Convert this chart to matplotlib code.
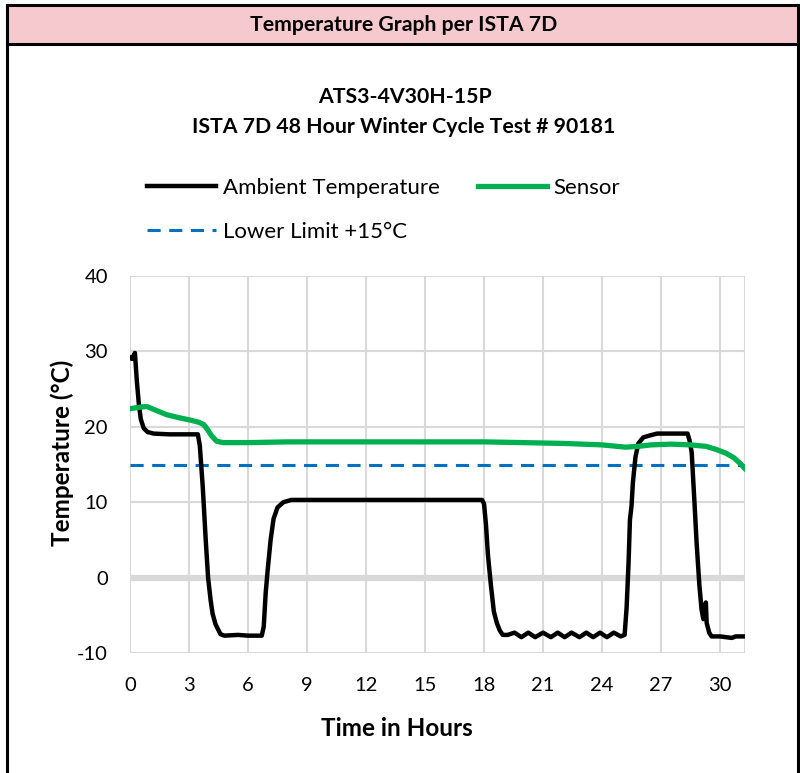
import matplotlib.pyplot as plt
from matplotlib.patches import Rectangle
from matplotlib.lines import Line2D

plt.rcParams['font.family'] = ['Lato', 'DejaVu Sans']
plt.rcParams['axes.unicode_minus'] = False

# time in hours / temperature in degC
ambient_t = [0.0, 0.1, 0.25, 0.35, 0.45, 0.55, 0.7, 0.9, 1.2, 2.0, 3.0, 3.45,
             3.55, 3.7, 3.85, 3.97, 4.1, 4.2, 4.35, 4.6, 4.8, 5.5, 6.0, 6.7,
             6.8, 6.9, 7.0, 7.15, 7.3, 7.5, 7.8, 8.2, 10.0, 14.0, 17.9,
             18.0, 18.1, 18.2, 18.35, 18.5, 18.65, 18.8, 18.95, 19.2,
             19.55, 19.9, 20.25, 20.6, 21.0, 21.4, 21.75, 22.1, 22.45, 22.85,
             23.2, 23.55, 23.9, 24.25, 24.6, 24.95, 25.15,
             25.25, 25.35, 25.42, 25.5, 25.57, 25.7, 25.85, 26.1, 26.5, 26.8,
             28.35, 28.45, 28.56, 28.7, 28.81, 28.95, 29.06, 29.15, 29.22,
             29.28, 29.32, 29.45, 29.57, 30.0, 30.3, 30.6, 30.8, 31.0, 31.25]
ambient_v = [29.2, 29.0, 29.8, 26.0, 23.0, 21.0, 19.8, 19.3, 19.1, 19.0, 19.0, 19.0,
             17.5, 12.0, 5.0, 0.0, -3.0, -4.8, -6.2, -7.5, -7.7, -7.6, -7.7, -7.7,
             -6.5, -2.0, 1.0, 5.0, 7.8, 9.3, 10.0, 10.3, 10.3, 10.3, 10.3,
             9.8, 7.0, 3.0, -1.0, -4.5, -6.0, -7.0, -7.6, -7.6,
             -7.3, -7.9, -7.3, -7.9, -7.3, -7.9, -7.3, -7.9, -7.3, -7.9,
             -7.3, -7.9, -7.3, -7.9, -7.3, -7.8, -7.6,
             -4.0, 2.0, 7.7, 9.5, 12.6, 16.0, 17.8, 18.6, 18.9, 19.1,
             19.1, 18.2, 16.6, 10.0, 4.6, -1.0, -4.2, -5.5, -4.5,
             -3.3, -6.0, -7.3, -7.8, -7.8, -7.9, -8.0, -7.8, -7.8, -7.8]

sensor_t = [0.0, 0.5, 0.85, 1.3, 1.87, 2.5, 3.05, 3.5, 3.75, 3.95, 4.15, 4.4,
            4.73, 6.0, 8.0, 10.0, 14.0, 18.0, 20.0, 22.0, 24.0, 25.2, 25.8,
            26.5, 27.5, 28.5, 29.3, 29.8, 30.3, 30.7, 31.0, 31.25]
sensor_v = [22.4, 22.6, 22.7, 22.2, 21.6, 21.2, 20.9, 20.6, 20.3, 19.6, 18.8, 18.1,
            17.9, 17.9, 18.0, 18.0, 18.0, 18.0, 17.9, 17.8, 17.6, 17.3, 17.4,
            17.6, 17.7, 17.6, 17.4, 17.0, 16.5, 15.9, 15.2, 14.5]

lower_limit = 15
x_max = 31.27
x_ticks = list(range(0, 31, 3))
y_ticks = [-10, 0, 10, 20, 30, 40]

fig = plt.figure(figsize=(8, 7.73), dpi=100)

# header band + frame
W, H = 800, 773
fig.patches.append(Rectangle((7 / W, 1 - 44 / H), 791 / W, 39 / H, transform=fig.transFigure,
                             facecolor='#F6C9CF', edgecolor='none', zorder=0))
frame = dict(color='black', lw=2.2, transform=fig.transFigure)
fig.lines.append(Line2D([7 / W, 798 / W], [1 - 5 / H, 1 - 5 / H], **frame))
fig.lines.append(Line2D([7 / W, 798 / W], [1 - 44 / H, 1 - 44 / H], **frame))
fig.lines.append(Line2D([7 / W, 7 / W], [0, 1 - 5 / H], **frame))
fig.lines.append(Line2D([798 / W, 798 / W], [0, 1 - 5 / H], **frame))
fig.text(404 / W, 1 - 25 / H, 'Temperature Graph per ISTA 7D', ha='center', va='center',
         fontsize=15.3, fontweight='bold')

ax = fig.add_axes([130 / W, 120 / H, 615 / W, 377 / H])
ax.plot(ambient_t, ambient_v, color='black', lw=3.2, label='Ambient Temperature',
        solid_joinstyle='round', zorder=4)
ax.plot(sensor_t, sensor_v, color='#00B050', lw=3.8, label='Sensor', zorder=5)
ax.axhline(lower_limit, color='#0070C0', lw=2.2, ls=(0, (4.3, 2.8)),
           label='Lower Limit +15°C', zorder=3)

ax.set_xlim(0, x_max)
ax.set_ylim(-10, 40)
ax.set_xticks(x_ticks)
ax.set_yticks(y_ticks)
ax.grid(True, color='#D9D9D9', lw=1.5, zorder=0)
ax.axvline(x_max, color='#D9D9D9', lw=1.5, zorder=0)
ax.axhline(0, color='#D9D9D9', lw=4.5, zorder=1)
for s in ax.spines.values():
    s.set_visible(False)
ax.tick_params(length=0, labelsize=14.5)
ax.tick_params(axis='x', pad=17)
ax.tick_params(axis='y', pad=16)
ax.set_xlabel('Time in Hours', fontsize=17.5, fontweight='bold', labelpad=17)
ax.set_ylabel('Temperature (°C)', fontsize=17.5, fontweight='bold', labelpad=2)
# Excel centres the axis titles on the chart area, not the plot area
ax.xaxis.label.set_x(0.434)
ax.yaxis.label.set_y(0.53)

fig.text(405 / W, 1 - 97 / H, 'ATS3-4V30H-15P', ha='center', va='center',
         fontsize=15.3, fontweight='bold')
fig.text(404 / W, 1 - 127 / H, 'ISTA 7D 48 Hour Winter Cycle Test # 90181', ha='center',
         va='center', fontsize=15.3, fontweight='bold')

handles, labels = ax.get_legend_handles_labels()
fig.legend([handles[0], handles[2], handles[1]], [labels[0], labels[2], labels[1]],
           ncol=2, loc='upper left', bbox_to_anchor=(147 / W, 1 - 178 / H),
           frameon=False, fontsize=16, handlelength=3.1, handletextpad=0.32,
           columnspacing=1.7, labelspacing=1.06, borderpad=0, borderaxespad=0)

fig.savefig('out.png', dpi=100)
